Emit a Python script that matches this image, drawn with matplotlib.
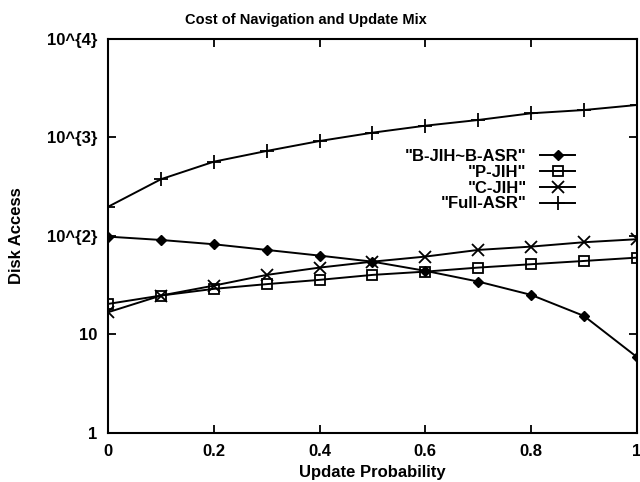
import matplotlib
matplotlib.use("Agg")
import matplotlib.pyplot as plt
from matplotlib.ticker import FixedLocator, FixedFormatter

plt.rcParams['font.family'] = ['Liberation Sans', 'DejaVu Sans']

update_prob = [0.0, 0.1, 0.2, 0.3, 0.4, 0.5, 0.6, 0.7, 0.8, 0.9, 1.0]
b_jih_b_asr = [98.4, 91, 82.3, 72.1, 63.1, 54.8, 44.2, 34.4, 25.2, 15.4, 5.9]
p_jih = [20.4, 24.8, 29.0, 32.4, 35.8, 40.2, 43.4, 47.7, 51.6, 55.7, 60.2]
c_jih = [16.8, 24.8, 31.3, 40.2, 47.7, 54.8, 61.7, 72.1, 77.9, 86.3, 92.6]
full_asr = [198, 377, 568, 730, 921, 1119, 1318, 1506, 1761, 1901, 2138]

x_ticks = [0, 0.2, 0.4, 0.6, 0.8, 1]
x_tick_labels = ["0", "0.2", "0.4", "0.6", "0.8", "1"]
y_ticks = [1, 10, 100, 1000, 10000]
y_tick_labels = ["1", "10", "10^{2}", "10^{3}", "10^{4}"]

fig = plt.figure(figsize=(6.4, 4.82), dpi=100)
ax = fig.add_axes([0.169, 0.102, 0.826, 0.817])

lw = 1.4
ax.plot(update_prob, b_jih_b_asr, color='black', lw=lw, marker='D', ms=5,
        mfc='black', mec='black', label='"B-JIH~B-ASR"')
ax.plot(update_prob, p_jih, color='black', lw=lw, marker='s', ms=7,
        mfc='none', mec='black', mew=1.3, label='"P-JIH"')
ax.plot(update_prob, c_jih, color='black', lw=lw, marker='x', ms=8,
        mec='black', mew=1.3, label='"C-JIH"')
ax.plot(update_prob, full_asr, color='black', lw=lw, marker='+', ms=10,
        mec='black', mew=1.3, label='"Full-ASR"')

ax.set_yscale('log')
ax.set_xlim(0, 1)
ax.set_ylim(1, 10000)
ax.xaxis.set_major_locator(FixedLocator(x_ticks))
ax.xaxis.set_major_formatter(FixedFormatter(x_tick_labels))
ax.yaxis.set_major_locator(FixedLocator(y_ticks))
ax.yaxis.set_major_formatter(FixedFormatter(y_tick_labels))
ax.yaxis.set_minor_locator(FixedLocator([]))

fs = 12
ax.tick_params(axis='both', which='major', direction='in', length=6, width=1.3,
               top=True, right=True, labelsize=fs, pad=8)
for lab in ax.get_xticklabels() + ax.get_yticklabels():
    lab.set_fontweight('bold')
for s in ax.spines.values():
    s.set_linewidth(1.5)

fig.text(306 / 640, 1 - 20 / 482, "Cost of Navigation and Update Mix",
         fontsize=10.5, fontweight='bold', ha='center', va='center')
ax.set_xlabel("Update Probability", fontsize=fs, fontweight='bold', labelpad=4)
ax.set_ylabel("Disk Access", fontsize=fs, fontweight='bold', labelpad=16)

leg = ax.legend(loc='upper right', bbox_to_anchor=(0.899, 0.742), frameon=False,
                markerfirst=False, fontsize=fs, handlelength=2.1,
                labelspacing=0.05, handletextpad=0.8, borderpad=0)
for t in leg.get_texts():
    t.set_fontweight('bold')
    t.set_ha('right')
leg._legend_box.align = 'right'

fig.savefig("out.png", dpi=100)
